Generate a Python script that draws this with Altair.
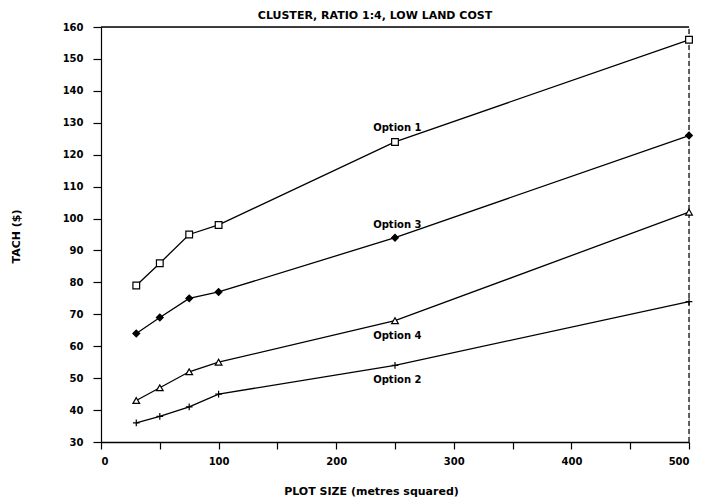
import altair as alt
import pandas as pd

# ---- data ----
plot_size = [30, 50, 75, 100, 250, 500]
series_names = ["Option 1", "Option 2", "Option 3", "Option 4"]
option1 = [79, 86, 95, 98, 124, 156]
option2 = [36, 38, 41, 45, 54, 74]
option3 = [64, 69, 75, 77, 94, 126]
option4 = [43, 47, 52, 55, 68, 102]

label_x = [252, 252, 252, 252]
label_y = [128.4, 49.4, 98.0, 63.2]

x_tick_values = [0, 50, 100, 150, 200, 250, 300, 350, 400, 450, 500]
y_tick_values = [30, 40, 50, 60, 70, 80, 90, 100, 110, 120, 130, 140, 150, 160]
x_domain = [0, 500]
y_domain = [30, 160]

title_text = "CLUSTER, RATIO 1:4, LOW LAND COST"
x_title = "PLOT SIZE (metres squared)"
y_title = "TACH ($)"

FONT = "DejaVu Sans"

rows = []
for name, vals in zip(series_names, [option1, option2, option3, option4]):
    for xv, yv in zip(plot_size, vals):
        rows.append({"option": name, "x": xv, "y": yv})
df = pd.DataFrame(rows)

labels_df = pd.DataFrame({"option": series_names, "x": label_x, "y": label_y})
frame_top = pd.DataFrame({"x": [x_domain[0]], "x2": [x_domain[1]], "y": [y_domain[1]]})
frame_right = pd.DataFrame({"x": [x_domain[1]], "y": [y_domain[0]], "y2": [y_domain[1]]})

x_scale = alt.Scale(domain=x_domain, nice=False, zero=False)
y_scale = alt.Scale(domain=y_domain, nice=False, zero=False)

x_axis = alt.Axis(
    values=x_tick_values,
    labelExpr="datum.value % 100 == 0 ? datum.label : ''",
    tickSize=7, tickColor="black", tickWidth=1.2,
    domainColor="black", domainWidth=1.5,
    labelPadding=7, labelFont=FONT, labelFontSize=10, labelFontWeight="bold",
    labelColor="black", grid=False,
    titleFont=FONT, titleFontSize=11, titleFontWeight="bold", titleColor="black",
    titleX=270, titleY=49, titleAlign="center", titleBaseline="middle",
)
y_axis = alt.Axis(
    values=y_tick_values,
    tickSize=8, tickColor="black", tickWidth=1.2,
    domainColor="black", domainWidth=1.2,
    labelPadding=10, labelFont=FONT, labelFontSize=10, labelFontWeight="bold",
    labelColor="black", grid=False,
    titleFont=FONT, titleFontSize=11, titleFontWeight="bold", titleColor="black",
    titleAngle=270, titleX=-85, titleY=209, titleAlign="center", titleBaseline="middle",
)


def X(field="x"):
    return alt.X(f"{field}:Q", scale=x_scale, axis=x_axis, title=x_title)


def Y(field="y"):
    return alt.Y(f"{field}:Q", scale=y_scale, axis=y_axis, title=y_title)


lines = alt.Chart(df).mark_line(color="black", strokeWidth=1.3).encode(
    x=X(), y=Y(), detail="option:N"
)

plus_path = "M-1,0H1M0,-1V1"
points = alt.Chart(df).mark_point(stroke="black", strokeWidth=1.2, opacity=1, fillOpacity=1).encode(
    x=X(), y=Y(),
    shape=alt.Shape("option:N", scale=alt.Scale(domain=series_names,
                    range=["square", plus_path, "diamond", "triangle-up"]), legend=None),
    fill=alt.Fill("option:N", scale=alt.Scale(domain=series_names,
                  range=["white", "white", "black", "white"]), legend=None),
    size=alt.value(45),
)

texts = alt.Chart(labels_df).mark_text(
    font=FONT, fontSize=10, fontWeight="bold", color="black", align="center", baseline="middle"
).encode(x=X(), y=Y(), text="option:N")

top_rule = alt.Chart(frame_top).mark_rule(color="black", strokeWidth=1.5).encode(
    x=X(), x2="x2:Q", y=Y()
)
right_rule = alt.Chart(frame_right).mark_rule(color="black", strokeWidth=1.2, strokeDash=[5, 3]).encode(
    x=X(), y=Y(), y2="y2:Q"
)

chart = alt.layer(top_rule, right_rule, lines, points, texts).properties(
    width=588, height=415,
    title=alt.TitleParams(title_text, font=FONT, fontSize=11, fontWeight="bold",
                          color="black", anchor="middle", dx=-20, offset=1),
    autosize=alt.AutoSizeParams(type="none"),
    padding={"left": 93, "top": 19, "right": 13, "bottom": 60},
).configure_view(stroke=None).configure(background="white")

chart.save("out.html", embed_options={"renderer": "svg", "actions": False})
